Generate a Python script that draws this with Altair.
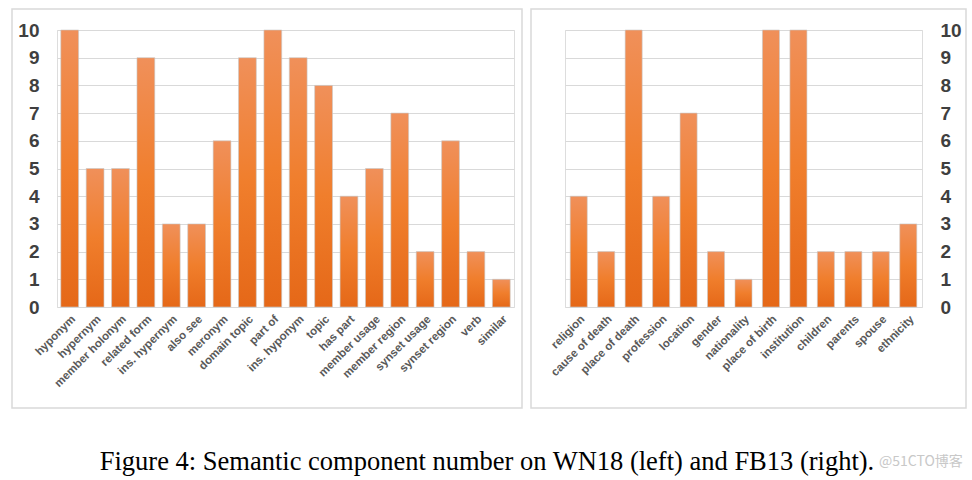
import altair as alt
import pandas as pd

wn_rel = ["hyponym", "hypernym", "member holonym", "related form", "ins. hypernym",
          "also see", "meronym", "domain topic", "part of", "ins. hyponym", "topic",
          "has part", "member usage", "member region", "synset usage", "synset region",
          "verb", "similar"]
wn_val = [10, 5, 5, 9, 3, 3, 6, 9, 10, 9, 8, 4, 5, 7, 2, 6, 2, 1]

fb_rel = ["religion", "cause of death", "place of death", "profession", "location",
          "gender", "nationality", "place of birth", "institution", "children",
          "parents", "spouse", "ethnicity"]
fb_val = [4, 2, 10, 4, 7, 2, 1, 10, 10, 2, 2, 2, 3]

y_ticks = list(range(0, 11))
caption = "Figure 4: Semantic component number on WN18 (left) and FB13 (right)."
watermark = "@51CTO博客"

wn = pd.DataFrame({"rel": wn_rel, "val": wn_val})
fb = pd.DataFrame({"rel": fb_rel, "val": fb_val})
one = pd.DataFrame({"k": [0]})

grad = alt.Gradient(
    gradient="linear",
    stops=[alt.GradientStop(color="#F0905A", offset=0),
           alt.GradientStop(color="#F07E2C", offset=0.5),
           alt.GradientStop(color="#E56818", offset=1)],
    x1=0, x2=0, y1=0, y2=1,
)

H = 277


def panel(df, w, orient, pad_inner, border, extra):
    x = alt.X("rel:N", sort=None, title=None,
              scale=alt.Scale(paddingInner=pad_inner, paddingOuter=pad_inner / 2),
              axis=alt.Axis(labelAngle=-45, labelFontSize=11.5, labelFontWeight="bold",
                            labelColor="#595959", labelFont="Liberation Sans",
                            ticks=False, domain=False, labelPadding=6, grid=False))
    y = alt.Y("val:Q", title=None,
              scale=alt.Scale(domain=[0, 10], nice=False),
              axis=alt.Axis(orient=orient, values=y_ticks, labelFontSize=19,
                            labelFontWeight="bold", labelColor="#3F3F3F",
                            labelFont="Liberation Sans", ticks=False, domain=False,
                            labelPadding=18, gridColor="#D9D9D9", gridWidth=1.2))
    bars = alt.Chart(df).mark_bar(color=grad, stroke="#C8C8C8", strokeOpacity=0.6,
                                  strokeWidth=1).encode(x=x, y=y)
    box = alt.Chart(one).mark_rect(filled=False, stroke="#D9D9D9", strokeWidth=1.5).encode(
        x=alt.value(border[0]), x2=alt.value(border[1]),
        y=alt.value(-21), y2=alt.value(378))
    return alt.layer(box, bars, extra).properties(width=w, height=H)


cap = alt.Chart(one).mark_text(text=caption, font="Liberation Serif", fontSize=26.5,
                               color="#000000", align="center", baseline="middle").encode(
    x=alt.value(430), y=alt.value(432))
wm = alt.Chart(one).mark_text(text=watermark, font="Noto Sans CJK SC", fontSize=14,
                              color="#C8C8C8", align="left", baseline="middle").encode(
    x=alt.value(314), y=alt.value(432))

left = panel(wn, 457, "left", 0.3, (-45, 465), cap)
right = panel(fb, 357, "right", 0.38, (-34, 401), wm)

chart = alt.hconcat(left, right, spacing=51, bounds="flush").properties(
    padding={"left": 10, "top": 7, "right": 0, "bottom": 0}
).configure_view(stroke=None).configure(background="white")

chart.save("out.html", embed_options={"renderer": "svg", "actions": False})
